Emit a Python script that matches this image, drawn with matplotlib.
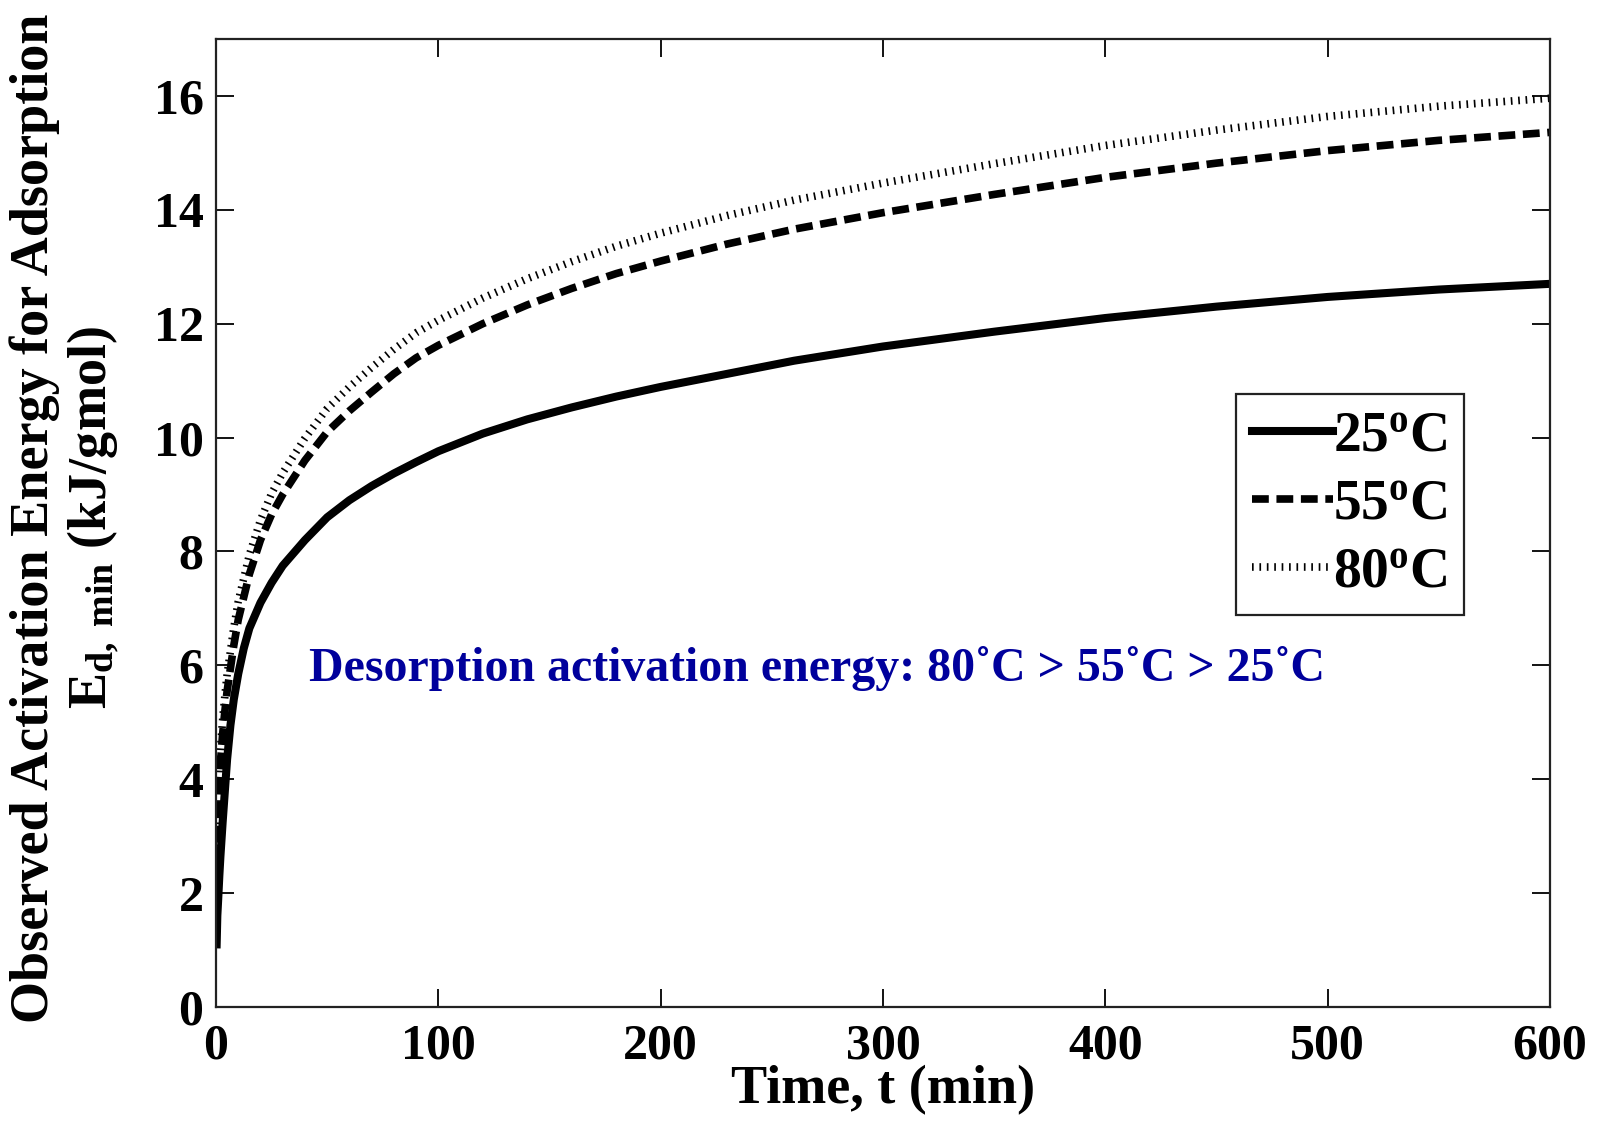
import matplotlib
matplotlib.use("Agg")
import matplotlib.pyplot as plt

plt.rcParams['font.family'] = ['Liberation Serif', 'DejaVu Serif']
plt.rcParams['font.weight'] = 'bold'
plt.rcParams['mathtext.fontset'] = 'custom'
plt.rcParams['mathtext.rm'] = 'Liberation Serif:bold'
plt.rcParams['mathtext.bf'] = 'Liberation Serif:bold'
plt.rcParams['mathtext.it'] = 'Liberation Serif:bold:italic'

# ---- data ----
t_grid = [0.3, 0.6, 1, 1.5, 2, 3, 4, 5, 6.5, 8, 10, 12.5, 15, 20, 25, 30, 40, 50, 60, 70, 80, 90,
          100, 120, 140, 160, 180, 200, 230, 260, 300, 350, 400, 450, 500, 550, 600]
e_25 = [1.1, 1.6, 1.9, 2.3, 2.65, 3.25, 3.8, 4.35, 4.95, 5.4, 5.85, 6.3, 6.65, 7.1, 7.45, 7.75, 8.2, 8.6, 8.9, 9.15, 9.37, 9.57,
        9.76, 10.07, 10.32, 10.53, 10.72, 10.89, 11.12, 11.35, 11.6, 11.86, 12.1, 12.3, 12.47, 12.6, 12.7]
e_55 = [1.6, 2.8, 3.55, 4.0, 4.3, 4.8, 5.2, 5.55, 5.95, 6.35, 6.8, 7.2, 7.6, 8.2, 8.65, 9.0, 9.6, 10.1, 10.47, 10.8, 11.12, 11.4,
        11.62, 12.0, 12.33, 12.62, 12.88, 13.1, 13.4, 13.66, 13.95, 14.27, 14.57, 14.82, 15.04, 15.22, 15.36]
e_80 = [1.65, 2.9, 3.7, 4.2, 4.52, 5.05, 5.47, 5.84, 6.25, 6.66, 7.12, 7.53, 7.94, 8.55, 9.02, 9.38, 9.99, 10.51, 10.89, 11.23, 11.55, 11.84,
        12.06, 12.45, 12.79, 13.09, 13.36, 13.59, 13.9, 14.17, 14.47, 14.81, 15.13, 15.4, 15.64, 15.82, 15.96]
series_labels = [r'25$^{\mathrm{o}}$C', r'55$^{\mathrm{o}}$C', r'80$^{\mathrm{o}}$C']
x_ticks = [0, 100, 200, 300, 400, 500, 600]
y_ticks = [0, 2, 4, 6, 8, 10, 12, 14, 16]

fig = plt.figure(figsize=(16.03, 11.27), dpi=100)
ax = fig.add_axes([216/1603, 1-1007/1127, 1334/1603, 968/1127])

ax.plot(t_grid, e_25, color='black', lw=5.8, solid_joinstyle='round', label=series_labels[0])
l55, = ax.plot(t_grid, e_55, color='black', lw=5.5, label=series_labels[1])
l55.set_dashes([2.2, 1.0])
l80, = ax.plot(t_grid, e_80, color='black', lw=5.5, label=series_labels[2])
l80.set_dashes([0.22, 0.75])

ax.set_xlim(0, 600)
ax.set_ylim(0, 17)
ax.set_xticks(x_ticks)
ax.set_yticks(y_ticks)
ax.tick_params(direction='in', length=13, width=1.3, top=True, right=True,
               labelsize=36, colors='black')
ax.tick_params(axis='x', pad=12)
ax.tick_params(axis='y', pad=9)
for lab in ax.get_xticklabels() + ax.get_yticklabels():
    lab.set_fontweight('bold')
for s in ax.spines.values():
    s.set_linewidth(1.6)
    s.set_color('#222222')

ax.set_xlabel('Time, t (min)', fontsize=39, fontweight='bold', labelpad=-3)

fig.text(65/1603, 1-518/1127,
         'Observed Activation Energy for Adsorption\n' + r'E$_{\mathrm{d,\ min}}$ (kJ/gmol)',
         rotation=90, ha='center', va='center', multialignment='center',
         fontsize=39, fontweight='bold', linespacing=1.15)

ax.text(42, 5.95, 'Desorption activation energy: 80\u02daC > 55\u02daC > 25\u02daC',
        color='#00009C', fontsize=34.5, fontweight='bold', ha='left', va='center')

leg = ax.legend(loc='upper right', bbox_to_anchor=(0.9355, 0.633), borderaxespad=0,
                handlelength=1.45, handletextpad=0.0, labelspacing=0.28,
                borderpad=0.3, fancybox=False, framealpha=1, edgecolor='#222222',
                prop={'weight': 'bold', 'size': 40})
leg.get_frame().set_linewidth(1.6)

fig.savefig('out.png', dpi=100)
